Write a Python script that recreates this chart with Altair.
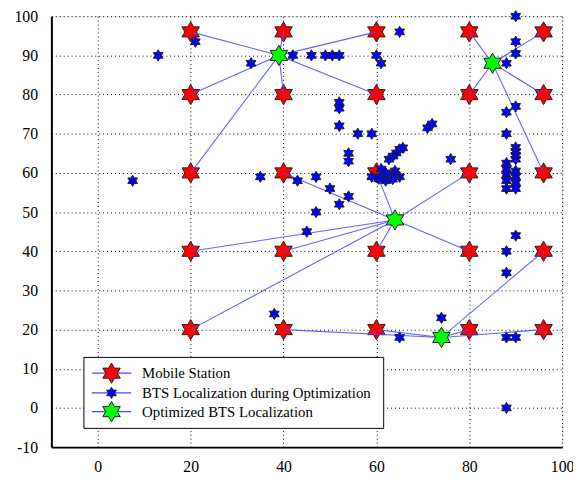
import altair as alt
import pandas as pd

# Mobile stations (red)
ms_x = [20, 40, 60, 80, 96,
        20, 40, 60, 80, 96,
        20, 40, 60, 80, 96,
        20, 40, 60, 80, 96,
        20, 40, 60, 80, 96]
ms_y = [96, 96, 96, 96, 96,
        80, 80, 80, 80, 80,
        60, 60, 60, 60, 60,
        40, 40, 40, 40, 40,
        20, 20, 20, 20, 20]
# index of optimized BTS serving each station
ms_bts = [0, 0, 0, 1, 1,
          0, 0, 0, 1, 1,
          0, 2, 2, 2, 1,
          2, 2, 2, 2, 3,
          2, 3, 3, 3, 3]

# Optimized BTS (green)
opt_x = [39, 85, 64, 74]
opt_y = [90, 88, 48, 18]

# BTS localization during optimization (blue)
bts_x = [7.5, 13, 21, 33, 35, 38,
         42, 46, 49, 50.5, 52,
         60, 61, 65,
         52, 52, 52, 56, 59,
         54, 54,
         43, 47, 50, 54, 52, 47, 45,
         59, 61, 61, 62, 63, 64, 65, 64, 62, 63.5, 60.5,
         62.7, 63.6, 64.3, 65, 65.7,
         71, 72, 76,
         88, 88, 88, 88, 88, 88, 88,
         90, 90, 90, 90, 90, 90, 90, 90, 90,
         90, 90, 90, 88,
         90, 88, 88,
         74, 65, 88, 90, 88]
bts_y = [58, 90, 93.5, 88, 59, 24,
         90, 90, 90, 90, 90,
         90, 88, 96,
         78, 76.5, 72, 70, 70,
         65, 63,
         58, 59, 56, 54, 52, 50, 45,
         59, 61, 59, 58, 59, 60.5, 59, 59.2, 60, 58.4, 58.5,
         63.5, 64.3, 65.1, 66, 66.4,
         71.5, 72.5, 63.5,
         75.5, 70, 62.5, 61, 59.5, 58, 56,
         77, 66.5, 65.5, 64.5, 63.5, 60.5, 59, 57.5, 56,
         100, 93.5, 90.5, 88,
         44, 40, 34.5,
         23, 18, 18, 18, 0]

x_ticks = [0, 20, 40, 60, 80, 100]
y_ticks = [-10, 0, 10, 20, 30, 40, 50, 60, 70, 80, 90, 100]

legend_labels = ["Mobile Station", "BTS Localization during Optimization", "Optimized BTS Localization"]

HEX = ("M0,-1L-0.289,-0.5L-0.866,-0.5L-0.577,0L-0.866,0.5L-0.289,0.5L0,1L0.289,0.5"
       "L0.866,0.5L0.577,0L0.866,-0.5L0.289,-0.5Z")
FONT = "Times New Roman"
LINE_COLOR = "#4646ff"

ms_df = pd.DataFrame({"x": ms_x, "y": ms_y})
opt_df = pd.DataFrame({"x": opt_x, "y": opt_y})
bts_df = pd.DataFrame({"x": bts_x, "y": bts_y})
seg_df = pd.DataFrame({
    "x": ms_x, "y": ms_y,
    "x2": [opt_x[i] for i in ms_bts],
    "y2": [opt_y[i] for i in ms_bts],
})

xs = alt.Scale(domain=[-10, 100], nice=False, zero=False)
ys = alt.Scale(domain=[-10, 100], nice=False, zero=False)

xax = alt.Axis(values=x_ticks, title=None, labelPadding=12, labelExpr="'' + datum.value")
yax = alt.Axis(values=y_ticks, title=None, labelPadding=14, labelExpr="'' + datum.value")

X = alt.X("x:Q", scale=xs, axis=xax)
Y = alt.Y("y:Q", scale=ys, axis=yax)

red = alt.Chart(ms_df).mark_point(shape=HEX, filled=True, fill="#ff0000", stroke="#222222",
                                  strokeWidth=1, size=420, opacity=1).encode(x=X, y=Y)

segs = alt.Chart(seg_df).mark_rule(color=LINE_COLOR, strokeWidth=1.1, opacity=0.85).encode(
    x=X, y=Y, x2="x2:Q", y2="y2:Q")

blue = alt.Chart(bts_df).mark_point(shape=HEX, filled=True, fill="#0000ff", stroke="#222222",
                                    strokeWidth=1, size=130, opacity=1).encode(x=X, y=Y)

green = alt.Chart(opt_df).mark_point(shape=HEX, filled=True, fill="#00ff00", stroke="#222222",
                                     strokeWidth=1, size=420, opacity=1).encode(x=X, y=Y)

# Legend (pixel positioned)
leg_df = pd.DataFrame({
    "label": legend_labels,
    "py": [362, 382, 401],
    "fill": ["#ff0000", "#0000ff", "#00ff00"],
    "sz": [420, 130, 420],
})
box = alt.Chart(pd.DataFrame({"a": [0]})).mark_rect(fill="white", stroke="black", strokeWidth=1).encode(
    x=alt.value(33), x2=alt.value(337), y=alt.value(346), y2=alt.value(418))
leg_lines = alt.Chart(leg_df).mark_rule(color=LINE_COLOR, strokeWidth=1.2).encode(
    x=alt.value(41), x2=alt.value(81), y=alt.Y("py:Q", scale=None, axis=None))
leg_pts = alt.Chart(leg_df).mark_point(shape=HEX, filled=True, stroke="#222222", strokeWidth=1,
                                       opacity=1).encode(
    x=alt.value(61), y=alt.Y("py:Q", scale=None, axis=None),
    fill=alt.Fill("fill:N", scale=None, legend=None),
    size=alt.Size("sz:Q", scale=None, legend=None))
leg_txt = alt.Chart(leg_df).mark_text(align="left", baseline="middle", font=FONT, fontSize=15,
                                      color="black").encode(
    x=alt.value(92), y=alt.Y("py:Q", scale=None, axis=None), text="label:N")

chart = alt.layer(red, segs, blue, green, box, leg_lines, leg_pts, leg_txt).properties(
    width=518, height=437,
    autosize=alt.AutoSizeParams(type="none"),
    padding={"left": 44, "top": 5, "right": 11, "bottom": 30},
).configure_view(stroke="black", strokeWidth=2, fill="white").configure(
    background="white", font=FONT
).configure_axis(
    grid=True, ticks=False, gridDash=[1, 3], gridColor="black", gridOpacity=1, gridWidth=1,
    domainColor="black", domainWidth=2, labelFont=FONT, labelFontSize=16,
    labelColor="black", labelOverlap=False, labelFlush=False
).configure_text(font=FONT)

chart.save("out.html", embed_options={"renderer": "svg", "actions": False})
